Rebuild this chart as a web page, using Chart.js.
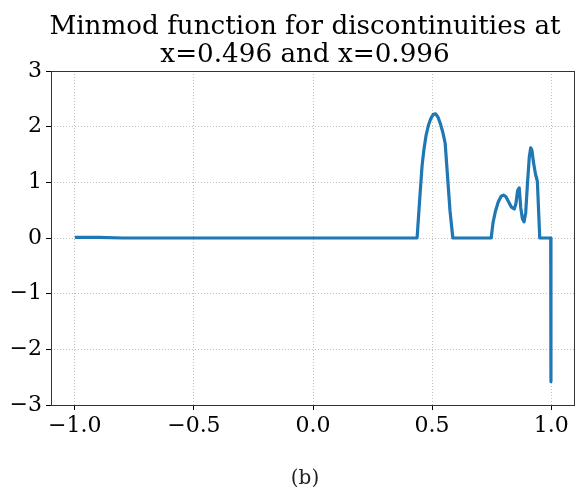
<!DOCTYPE html>
<html>
<head>
<meta charset="utf-8">
<script src="https://cdn.jsdelivr.net/npm/chart.js@4.4.1/dist/chart.umd.min.js"></script>
<style>
html,body{margin:0;padding:0;background:#fff;}
#wrap{width:576px;height:487px;position:relative;}
</style>
</head>
<body>
<div id="wrap"><canvas id="c" width="576" height="487"></canvas></div>
<script>
// Data
const xValues = [-1.0, -0.9, -0.8, 0.0, 0.437, 0.448, 0.458, 0.466, 0.475, 0.485, 0.495, 0.505, 0.515, 0.525, 0.535, 0.545, 0.555, 0.565, 0.575, 0.587,
  0.748, 0.756, 0.766, 0.778, 0.790, 0.800, 0.810, 0.820, 0.832, 0.845, 0.852, 0.859, 0.866, 0.872, 0.879, 0.886, 0.893, 0.900, 0.908, 0.914, 0.919, 0.926, 0.934, 0.942, 0.952, 0.998, 0.999];
const yValues = [0.01, 0.01, 0.0, 0.0, 0.0, 0.7, 1.3, 1.6, 1.85, 2.03, 2.15, 2.22, 2.23, 2.17, 2.05, 1.9, 1.7, 1.1, 0.5, 0.0,
  0.0, 0.28, 0.48, 0.65, 0.75, 0.77, 0.74, 0.66, 0.56, 0.52, 0.62, 0.85, 0.9, 0.55, 0.35, 0.29, 0.45, 0.95, 1.45, 1.62, 1.58, 1.35, 1.15, 1.02, 0.0, 0.0, -2.58];
const xTicks = [-1.0, -0.5, 0.0, 0.5, 1.0];
const yTicks = [-3, -2, -1, 0, 1, 2, 3];
const titleLines = ["Minmod function for discontinuities at", "x=0.496 and x=0.996"];
const caption = "(b)";

const points = xValues.map((x, i) => ({x: x, y: yValues[i]}));
const fmt = (v, d) => { const s = Math.abs(v).toFixed(d); return v < 0 ? "\u2212" + s : s; };
const SERIF = "'DejaVu Serif', serif";

const decor = {
  id: 'decor',
  afterDatasetsDraw(chart) {
    const ctx = chart.ctx, a = chart.chartArea;
    ctx.save();
    ctx.strokeStyle = '#333';
    ctx.lineWidth = 1;
    ctx.strokeRect(Math.round(a.left) + 0.5, Math.round(a.top) + 0.5, Math.round(a.right - a.left) - 1, Math.round(a.bottom - a.top));
    ctx.restore();
  },
  afterDraw(chart) {
    const ctx = chart.ctx;
    ctx.save();
    ctx.fillStyle = '#000';
    ctx.textAlign = 'center';
    ctx.textBaseline = 'alphabetic';
    ctx.font = "26.2px " + SERIF;
    ctx.fillText(titleLines[0], 305, 34);
    ctx.fillText(titleLines[1], 305, 62);
    ctx.fillStyle = '#222';
    ctx.font = "20px " + SERIF;
    ctx.fillText(caption, 305, 484);
    ctx.restore();
  }
};

const gridOpts = {color: '#b0b0b0', lineWidth: 0.8, tickColor: '#000', tickLength: 5, tickBorderDash: [1, 0], tickWidth: 1};

new Chart(document.getElementById('c'), {
  type: 'line',
  data: {
    datasets: [{
      data: points,
      borderColor: '#1f77b4',
      borderWidth: 3.2,
      pointRadius: 0,
      tension: 0,
      fill: false,
      borderJoinStyle: 'round',
      borderCapStyle: 'butt'
    }]
  },
  options: {
    responsive: false,
    animation: false,
    events: [],
    layout: {padding: {top: 71, right: 1, bottom: 0, left: 0}},
    plugins: {legend: {display: false}, tooltip: {enabled: false}, title: {display: false}},
    scales: {
      x: {
        type: 'linear', min: -1.1, max: 1.1,
        afterFit(s) { s.height = 82; },
        afterBuildTicks(s) { s.ticks = xTicks.map(v => ({value: v})); },
        ticks: {
          callback: v => fmt(v, 1), color: '#000', padding: 3, maxRotation: 0, autoSkip: false,
          font: {family: SERIF, size: 22}
        },
        grid: gridOpts,
        border: {display: false, dash: [1, 2]}
      },
      y: {
        type: 'linear', min: -3, max: 3,
        afterFit(s) { s.width = 51; },
        afterBuildTicks(s) { s.ticks = yTicks.map(v => ({value: v})); },
        ticks: {
          callback: v => fmt(v, 0), color: '#000', padding: 4, autoSkip: false,
          font: {family: SERIF, size: 22}
        },
        grid: gridOpts,
        border: {display: false, dash: [1, 2]}
      }
    }
  },
  plugins: [decor]
});
</script>
</body>
</html>
